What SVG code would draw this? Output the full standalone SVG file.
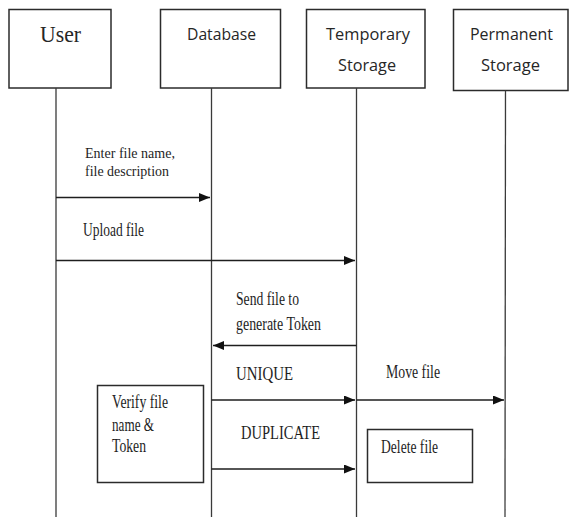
<svg xmlns="http://www.w3.org/2000/svg" width="569" height="517" viewBox="0 0 569 517">
  <style>
    .box { fill: #ffffff; stroke: #2b2b2b; stroke-width: 1.5; }
    .life { stroke: #3a3a3a; stroke-width: 1.3; fill: none; }
    .msg { stroke: #1e1e1e; stroke-width: 1.6; fill: none; marker-end: url(#head); }
    .hd { font-family: "Open Sans", "Liberation Sans", sans-serif; font-size: 17px; fill: #262626; }
    .lbl { font-family: "Liberation Serif", "Times New Roman", serif; font-size: 18px; fill: #1e1e1e; }
    .tight { font-size: 15.5px; }
  </style>
  <defs>
    <marker id="head" markerWidth="12" markerHeight="10" refX="11" refY="4.5" orient="auto" markerUnits="userSpaceOnUse">
      <path d="M0,0 L11,4.5 L0,9 Z" fill="#111111"/>
    </marker>
  </defs>
  <rect width="569" height="517" fill="#ffffff"/>

  <!-- participants -->
  <g id="user">
    <rect class="box" x="9" y="9.5" width="102" height="78.5"/>
    <text x="40" y="42" font-family="Liberation Serif, serif" font-size="24" fill="#262626" textLength="41" lengthAdjust="spacingAndGlyphs">User</text>
  </g>
  <g id="database">
    <rect class="box" x="160.5" y="9.5" width="120" height="78.5"/>
    <text class="hd" x="187" y="40" textLength="69" lengthAdjust="spacingAndGlyphs">Database</text>
  </g>
  <g id="temporary-storage">
    <rect class="box" x="306.5" y="9.5" width="118.5" height="78.5"/>
    <text class="hd" x="326" y="40" textLength="84" lengthAdjust="spacingAndGlyphs">Temporary</text>
    <text class="hd" x="338" y="71" textLength="58" lengthAdjust="spacingAndGlyphs">Storage</text>
  </g>
  <g id="permanent-storage">
    <rect class="box" x="453.5" y="9.5" width="114.5" height="81"/>
    <text class="hd" x="470" y="40" textLength="83" lengthAdjust="spacingAndGlyphs">Permanent</text>
    <text class="hd" x="481" y="71" textLength="59" lengthAdjust="spacingAndGlyphs">Storage</text>
  </g>

  <!-- processing notes -->
  <g id="verify-note">
    <rect class="box" x="97.5" y="385.5" width="106" height="97"/>
    <text class="lbl" x="112" y="408" textLength="56" lengthAdjust="spacingAndGlyphs">Verify file</text>
    <text class="lbl" x="112" y="431" textLength="42" lengthAdjust="spacingAndGlyphs">name &amp;</text>
    <text class="lbl" x="112" y="452" textLength="34" lengthAdjust="spacingAndGlyphs">Token</text>
  </g>
  <g id="delete-note">
    <rect class="box" x="367.5" y="429.5" width="105" height="53"/>
    <text class="lbl" x="381" y="453" textLength="57" lengthAdjust="spacingAndGlyphs">Delete file</text>
  </g>

  <!-- lifelines and messages -->
  <g id="connectors">
    <line class="life" x1="56" y1="88" x2="56" y2="517"/>
    <line class="life" x1="211.5" y1="88" x2="211.5" y2="517"/>
    <line class="life" x1="356.5" y1="88" x2="356.5" y2="517"/>
    <line class="life" x1="505.5" y1="90.5" x2="505" y2="517"/>

    <line class="msg" x1="56" y1="197.5" x2="210" y2="197.5"/>
    <line class="msg" x1="56" y1="260.5" x2="355" y2="260.5"/>
    <line class="msg" x1="356.5" y1="345.5" x2="213" y2="345.5"/>
    <line class="msg" x1="211.5" y1="400" x2="355" y2="400"/>
    <line class="msg" x1="356.5" y1="400" x2="504" y2="400"/>
    <line class="msg" x1="211.5" y1="469" x2="355" y2="469"/>
  </g>

  <!-- message labels -->
  <g id="labels">
    <text class="lbl tight" x="85" y="158" textLength="90" lengthAdjust="spacingAndGlyphs">Enter file name,</text>
    <text class="lbl tight" x="85" y="176" textLength="84" lengthAdjust="spacingAndGlyphs">file description</text>
    <text class="lbl" x="83" y="236" textLength="61" lengthAdjust="spacingAndGlyphs">Upload file</text>
    <text class="lbl" x="236" y="305" textLength="63" lengthAdjust="spacingAndGlyphs">Send file to</text>
    <text class="lbl" x="236" y="330" textLength="85" lengthAdjust="spacingAndGlyphs">generate Token</text>
    <text class="lbl" x="236" y="380" textLength="57" lengthAdjust="spacingAndGlyphs">UNIQUE</text>
    <text class="lbl" x="386" y="378" textLength="54" lengthAdjust="spacingAndGlyphs">Move file</text>
    <text class="lbl" x="241" y="438.5" textLength="79" lengthAdjust="spacingAndGlyphs">DUPLICATE</text>
  </g>
</svg>
